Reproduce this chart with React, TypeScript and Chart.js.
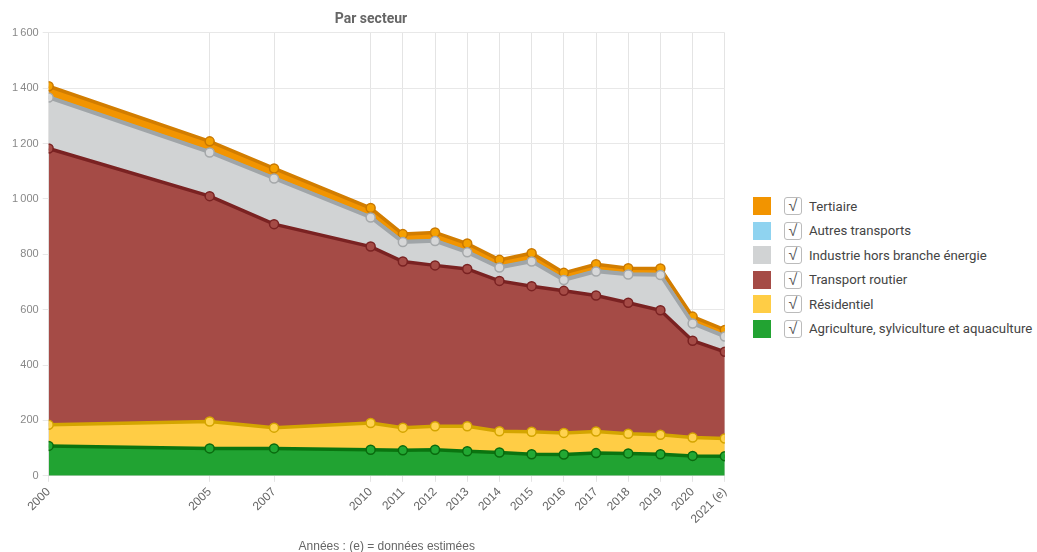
import React, { useEffect, useLayoutEffect, useRef } from "react";
import { Chart, registerables } from "chart.js";

Chart.register(...registerables);

const years = [2000, 2005, 2007, 2010, 2011, 2012, 2013, 2014, 2015, 2016, 2017, 2018, 2019, 2020, 2021];
const yearLabels = ["2000", "2005", "2007", "2010", "2011", "2012", "2013", "2014", "2015", "2016", "2017", "2018", "2019", "2020", "2021 (e)"];

const agriculture = [108, 99, 99, 94, 92, 94, 89, 84, 78, 77, 82, 81, 78, 72, 71];
const residentiel = [76, 97, 75, 97, 82, 85, 90, 77, 81, 78, 78, 71, 70, 66, 64];
const transportRoutier = [998, 814, 735, 637, 600, 581, 568, 543, 526, 513, 491, 473, 450, 350, 313];
const industrie = [184, 158, 165, 105, 70, 88, 60, 48, 89, 39, 87, 102, 127, 62, 55];
const autresTransports = [5, 5, 5, 5, 5, 5, 5, 5, 5, 5, 5, 5, 5, 5, 5];
const tertiaire = [36, 35, 31, 29, 24, 26, 27, 23, 25, 21, 21, 18, 19, 20, 19];

const yTicks = [0, 200, 400, 600, 800, 1000, 1200, 1400, 1600];

type S = { label: string; data: number[]; fill: string; line: string; pFill: string; pLine: string; legend: string; points: boolean };

const series: S[] = [
  { label: "Agriculture, sylviculture et aquaculture", data: agriculture, fill: "#21a332", line: "#0b7410", pFill: "#22a833", pLine: "#0a6a0e", legend: "#22a332", points: true },
  { label: "Résidentiel", data: residentiel, fill: "#ffcd45", line: "#d4a500", pFill: "#ffd24f", pLine: "#d4a500", legend: "#ffcd45", points: true },
  { label: "Transport routier", data: transportRoutier, fill: "#a54b46", line: "#7a2222", pFill: "#a54b46", pLine: "#7a2222", legend: "#a54b46", points: true },
  { label: "Industrie hors branche énergie", data: industrie, fill: "#d1d3d4", line: "#a0a5a8", pFill: "#d6d7d8", pLine: "#a5a8aa", legend: "#d1d3d4", points: true },
  { label: "Autres transports", data: autresTransports, fill: "#8fd3f0", line: "#93aab5", pFill: "#8fd3f0", pLine: "#93aab5", legend: "#8fd3f0", points: false },
  { label: "Tertiaire", data: tertiaire, fill: "#f29400", line: "#d27d00", pFill: "#f5a000", pLine: "#c97800", legend: "#f29400", points: true },
];

function fmt(v: number): string {
  const s = String(v);
  return s.length > 3 ? s.slice(0, s.length - 3) + "\u2009" + s.slice(s.length - 3) : s;
}

export default function App() {
  const ref = useRef<HTMLCanvasElement | null>(null);
  useLayoutEffect(() => {
    document.body.style.margin = "0";
  }, []);
  useEffect(() => {
    if (!ref.current) return;
    const chart = new Chart(ref.current, {
      type: "line",
      data: {
        datasets: series.map((s, i) => ({
          label: s.label,
          data: s.data.map((v, j) => ({ x: years[j], y: v })),
          backgroundColor: s.fill,
          borderColor: s.line,
          borderWidth: s.points ? 3.5 : 2,
          fill: i === 0 ? "origin" : "-1",
          tension: 0,
          pointRadius: s.points ? 4.5 : 0,
          pointBackgroundColor: s.pFill,
          pointBorderColor: s.pLine,
          pointBorderWidth: 1.5,
        })),
      },
      options: {
        animation: false,
        responsive: false,
        maintainAspectRatio: false,
        layout: { padding: { left: 0, right: 4, top: 0, bottom: 0 } },
        plugins: {
          legend: { display: false },
          tooltip: { enabled: false },
          title: {
            display: true,
            text: "Par secteur",
            color: "#666",
            font: { family: "Roboto, sans-serif", size: 14, weight: "bold" },
            padding: { top: 3, bottom: 5 },
          },
        },
        scales: {
          x: {
            type: "linear",
            min: 2000,
            max: 2021,
            afterBuildTicks: (scale: any) => {
              scale.ticks = years.map((v) => ({ value: v }));
            },
            ticks: {
              autoSkip: false,
              minRotation: 45,
              maxRotation: 45,
              color: "#666",
              font: { family: "Liberation Sans, Arial, sans-serif", size: 12 },
              callback: (v: any) => {
                const idx = years.indexOf(Number(v));
                return idx >= 0 ? yearLabels[idx] : "";
              },
            },
            grid: { color: "#e4e4e4", drawTicks: true, tickLength: 6 },
            border: { color: "#d8d8d8" },
            title: {
              display: true,
              text: "Années : (e) = données estimées",
              color: "#666",
              font: { family: "Liberation Sans, Arial, sans-serif", size: 12 },
              padding: { top: 10, bottom: 0 },
            },
          },
          y: {
            stacked: true,
            min: 0,
            max: 1600,
            afterBuildTicks: (scale: any) => {
              scale.ticks = yTicks.map((v) => ({ value: v }));
            },
            ticks: {
              color: "#888",
              font: { family: "Liberation Sans, Arial, sans-serif", size: 11 },
              callback: (v: any) => fmt(Number(v)),
              padding: 4,
            },
            grid: { color: "#e8e8e8", tickLength: 6 },
            border: { display: false },
          },
        },
      } as any,
    });
    return () => chart.destroy();
  }, []);

  const legendItems = [...series].reverse();
  return (
    <div style={{ position: "relative", width: 1037, height: 552, overflow: "hidden", fontFamily: "Roboto, sans-serif" }}>
      <canvas ref={ref} width={730} height={546} style={{ position: "absolute", left: 8, top: 8 }} />
      <div style={{ position: "absolute", left: 753, top: 194, whiteSpace: "nowrap" }}>
        {legendItems.map((s) => (
          <div key={s.label} style={{ display: "flex", alignItems: "center", height: 24.5 }}>
            <span style={{ width: 18, height: 18, background: s.legend, display: "inline-block" }} />
            <span
              style={{
                width: 16,
                height: 16,
                border: "1px solid #bbb",
                borderRadius: 3,
                marginLeft: 13,
                display: "inline-flex",
                alignItems: "center",
                justifyContent: "center",
                fontSize: 16,
                fontFamily: "DejaVu Sans, sans-serif",
                fontWeight: 300,
                color: "#555",
                lineHeight: "16px",
                background: "#fff",
              }}
            >
              √
            </span>
            <span style={{ marginLeft: 7, fontSize: 13.2, color: "#444" }}>{s.label}</span>
          </div>
        ))}
      </div>
    </div>
  );
}
